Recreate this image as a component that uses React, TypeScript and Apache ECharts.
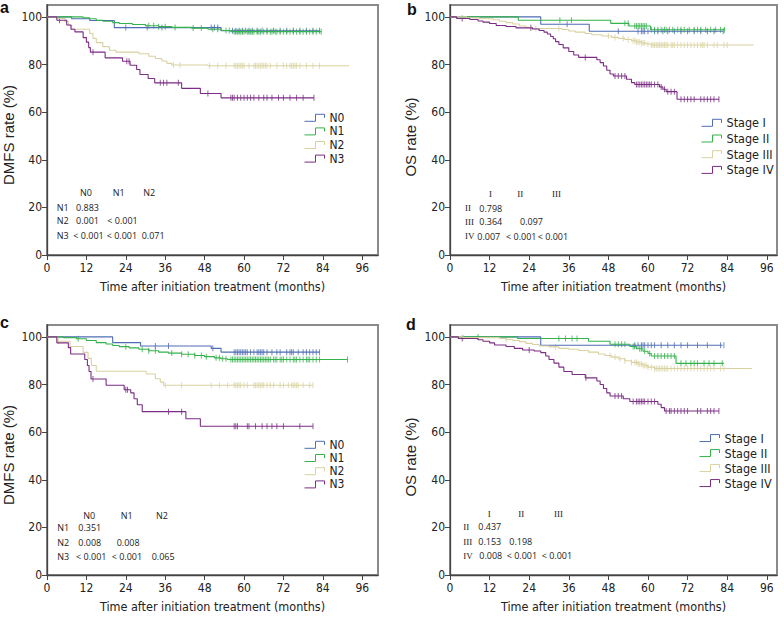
import React, { useEffect, useRef } from "react";
import * as echarts from "echarts";

// ---------- axis ticks ----------
const xTicks = [0, 12, 24, 36, 48, 60, 72, 84, 96];
const yTicks = [0, 20, 40, 60, 80, 100];

// ---------- groups ----------
const nodeGroups = ["N0", "N1", "N2", "N3"];
const stageGroups = ["Stage I", "Stage II", "Stage III", "Stage IV"];

// ---------- panel a: DMFS by N stage (steps = [month, rate]) ----------
const aN0Steps = [[0, 100], [7.5, 99.2], [13, 98.5], [20.5, 95.5], [53, 94.2], [83, 94.2]];
const aN0Censor = [24, 30.5, 35, 50, 51, 52, 56.5, 57.5, 58.5, 59.5, 60.5, 61.5, 62.5, 64, 65.5, 67, 69, 71, 73, 75, 77, 79, 81, 83];
const aN1Steps = [[0, 100], [11, 99.6], [13, 99.2], [15, 98.6], [17, 98.2], [20, 97.6], [22, 97.2], [26, 96.8], [30, 96.3], [34, 95.9], [38, 95.6], [44, 95.3], [49, 94.8], [53, 94.3], [56, 93.8], [83.5, 93.8]];
const aN1Censor = [31, 32.5, 34, 36, 39, 44.5, 47, 50.5, 52, 54.5, 55.5, 57, 57.5, 58, 58.5, 59, 59.5, 60, 61, 61.5, 62, 62.5, 63, 64, 64.5, 65, 66, 67, 68, 68.5, 69.5, 70, 71, 72, 73, 74, 75, 76, 77, 78, 79, 80, 81, 82, 83.5];
const aN2Steps = [[0, 100], [3, 99.3], [5.5, 98], [6.5, 96.5], [7.5, 94.8], [13, 93], [14, 91], [15, 89.2], [17, 87.5], [19, 86], [21, 85.2], [28, 84.5], [31, 83.5], [33, 82.5], [35, 81.5], [36.5, 80.5], [38, 79.8], [49, 79.5], [92, 79.5]];
const aN2Censor = [38.5, 40.5, 49.5, 52, 54.5, 57, 57.5, 58, 58.5, 59, 59.5, 60, 61.5, 63, 63.5, 64, 64.5, 65, 65.5, 66, 66.5, 67, 68, 70, 72, 73, 74, 74.5, 75, 75.5, 76, 77, 79, 81, 83];
const aN3Steps = [[0, 100], [3, 98.6], [6, 96.6], [7.3, 94.8], [8.5, 93.7], [11, 91.3], [12, 89.4], [12.7, 87.1], [13.2, 85.2], [17.7, 82.8], [23, 81.4], [25.3, 79.7], [27.3, 77.9], [28.3, 75.8], [30.8, 74.1], [32.8, 72.3], [41, 70], [46.7, 67.8], [53, 66], [81.3, 66]];
const aN3Censor = [3.8, 14, 24.3, 25, 34.5, 35.5, 36.5, 40, 49, 56, 56.5, 57, 58, 59, 60, 61, 62, 63, 64.5, 66, 67, 68.5, 70.5, 72, 74, 76, 78, 81.3];

// ---------- panel b: OS by clinical stage ----------
const bS1Steps = [[0, 100], [27.5, 96.9], [42.2, 94], [82.8, 94]];
const bS1Censor = [35.5, 51, 57, 58, 58.5, 59, 60, 62, 63, 64.5, 66, 68, 70, 72, 74, 76, 78, 80, 82.8];
const bS2Steps = [[0, 100], [20.7, 98.6], [48.7, 97.3], [54.2, 96.2], [60.8, 94.6], [83.2, 94.6]];
const bS2Censor = [33.3, 36.8, 53, 54, 56, 56.5, 57, 57.5, 58, 58.5, 59, 59.5, 61, 62, 63, 64, 65, 65.5, 66.5, 67.5, 69, 70, 71, 72.5, 74, 75, 76, 77.5, 79, 80.5, 82, 83.2];
const bS3Steps = [[0, 100], [5, 99.6], [9, 99.2], [13, 98.8], [15, 98.2], [17, 97.6], [19, 97], [21, 96.2], [23, 95.6], [25, 95.1], [34, 94.7], [36, 94.1], [38, 93.6], [41, 93], [43, 92.5], [46, 92], [49, 91.4], [51, 91], [53, 90.5], [55, 90], [56.5, 89.5], [58, 89], [59.5, 88.6], [61, 88.2], [92, 88.2]];
const bS3Censor = [26, 33, 48, 50, 52.5, 54, 55.5, 56, 56.5, 57, 57.5, 58, 58.5, 59, 60, 61, 61.5, 62, 62.5, 63, 63.5, 64, 64.5, 65, 65.5, 66, 67, 67.5, 68, 69, 70, 71, 72, 73, 74, 75, 76, 76.5, 77, 78, 80, 81, 83, 84];
const bS4Steps = [[0, 100], [2, 99.3], [6, 98.9], [8.5, 98.3], [10, 97.8], [12, 97.2], [14, 96.4], [17, 96], [20, 95.4], [25, 94.9], [27, 94.3], [28.5, 93.6], [29.5, 92.8], [30.5, 91.8], [31.3, 90.8], [32, 89.6], [33, 88.4], [34.3, 87], [36, 85.5], [37.5, 84], [39, 83], [44.5, 82], [45.5, 80.8], [46.5, 79.4], [47.5, 77.6], [48.5, 76], [49.5, 75.2], [53.5, 73.8], [55, 72.4], [56, 71.6], [63.5, 70.6], [64.5, 69.6], [65.5, 68.6], [68.8, 65.4], [81.5, 65.4]];
const bS4Censor = [3.7, 24.5, 41, 50, 51, 52, 53, 56.5, 57, 57.5, 58, 58.5, 59, 59.5, 60, 60.5, 61, 62, 63, 64, 65, 66, 67, 68, 70, 71, 72, 73, 74, 76, 77, 78, 79, 80, 81.5];

// ---------- panel c: DMFS by N stage ----------
const cN0Steps = [[0, 100], [20, 97.6], [28.5, 96.2], [50, 95.2], [53, 93.6], [83, 93.6]];
const cN0Censor = [33, 37, 50.5, 57, 57.5, 58, 58.5, 59, 59.5, 60, 60.5, 61, 62, 63, 64, 64.5, 65, 65.5, 66, 67, 68.5, 70, 71, 73, 74, 74.5, 75, 76.5, 78, 79, 80, 81, 82, 83];
const cN1Steps = [[0, 100], [5, 99.7], [9, 99.2], [12, 98.5], [15, 97.6], [18, 97], [20, 96.4], [22, 95.9], [25, 95.4], [28, 94.8], [31, 94.2], [34, 93.6], [37, 93.2], [41, 92.7], [45, 92.2], [48, 91.7], [51, 91.2], [53, 90.8], [55, 90.5], [91.5, 90.5]];
const cN1Censor = [9.5, 24, 29, 31, 33, 38, 41, 43, 45, 47, 48.5, 51.5, 52.5, 53.5, 54.5, 56, 56.5, 57, 57.5, 58, 58.5, 59, 59.5, 60, 60.5, 61, 61.5, 62, 62.5, 63, 63.5, 64, 64.5, 65, 65.5, 66, 66.5, 67, 67.5, 68, 69, 69.5, 70, 71, 71.5, 72, 73, 74, 75, 75.5, 76, 77, 78, 79, 79.5, 80, 81, 82, 83, 91.5];
const cN2Steps = [[0, 100], [3, 98.2], [7, 96], [11, 93.5], [12.5, 91], [13.5, 88], [15, 85.6], [30.2, 84.4], [33, 82.4], [34.5, 81], [35.5, 79.7], [81, 79.7]];
const cN2Censor = [3.5, 36, 41, 50, 52.5, 55, 57, 57.5, 58, 58.5, 59, 60, 61, 63, 63.5, 64, 64.5, 65, 65.5, 66, 67, 68, 69, 71, 72, 73.5, 74.5, 75, 75.5, 76, 76.5, 78, 80, 81];
const cN3Steps = [[0, 100], [3, 97.5], [6.5, 95.5], [7.2, 92.8], [11.5, 90.5], [12.3, 88], [12.8, 85.5], [13.4, 82.3], [18, 79.7], [23.5, 77.8], [25.5, 76.5], [26.5, 74], [27.5, 71.5], [29, 68.6], [42.3, 65.6], [46.7, 62.5], [81, 62.5]];
const cN3Censor = [14, 24, 24.5, 37, 41, 57, 57.5, 58, 61, 61.5, 63.5, 65.5, 67, 68.5, 70, 72, 77, 81];

// ---------- panel d: OS by clinical stage ----------
const dS1Steps = [[0, 100], [27.5, 96.5], [82.6, 96.5]];
const dS1Censor = [56, 57, 58, 58.5, 59, 60, 61, 62, 64, 66, 68, 70, 72, 75, 78, 82, 83];
const dS2Steps = [[0, 100], [20.5, 99.3], [42, 98.2], [48.5, 96.9], [54.5, 96], [56.5, 95], [58.5, 94], [60, 93], [61, 92], [68.5, 88.9], [83, 88.9]];
const dS2Censor = [8.5, 33, 35, 37, 38.5, 50, 51, 52, 53, 55.5, 56, 57.5, 58, 59, 60.5, 62, 63, 64, 65, 66, 67, 68, 70, 71.5, 73, 74, 75, 77, 78.5, 80, 82.5];
const dS3Steps = [[0, 100], [4, 99.7], [15, 99.3], [17, 98.9], [19, 98.5], [21, 98], [23, 97.3], [25, 96.8], [27, 96.2], [30, 95.8], [33, 95.2], [36, 94.8], [39, 94.3], [42, 93.6], [45, 92.8], [47, 92.2], [49, 91.5], [51, 90.8], [53, 90], [55, 89.3], [57, 88.6], [58.5, 88], [60, 87.3], [62, 86.7], [91.5, 86.7]];
const dS3Censor = [4, 17, 32, 48.5, 50, 51.5, 53, 55, 56, 56.5, 57, 57.5, 58, 58.5, 59, 59.5, 60, 61, 62, 62.5, 63, 63.5, 64, 64.5, 65, 65.5, 66, 67, 68, 69, 70, 71, 72, 73, 74, 75, 76, 77, 78, 79, 80, 82, 83];
const dS4Steps = [[0, 100], [2.5, 99.3], [8.5, 98.8], [10, 98.2], [12, 97.5], [13.5, 96.6], [17, 96], [19.5, 95.2], [22, 94.5], [25.5, 94.1], [27.5, 93.4], [29, 92], [30, 90.5], [31.5, 89], [33, 87.3], [34.5, 85.5], [37, 84.2], [41, 82.8], [44.5, 81.5], [45.5, 80], [46.5, 78.3], [47.5, 76.5], [48.5, 75.2], [52.5, 74], [54.5, 72.9], [63, 71.7], [64, 70.3], [65, 68.9], [81.5, 68.9]];
const dS4Censor = [3.7, 24, 41.2, 50, 51, 52, 55.5, 56.5, 57, 57.5, 58, 58.5, 59, 60, 61, 62, 65.5, 66.5, 67, 68, 69, 70, 71, 72, 75, 76, 78, 79, 80, 81.5];

// ---------- p-value tables (text) ----------
const aHeader = ["N0", "N1", "N2"];
const aRowLabels = ["N1", "N2", "N3"];
const aPValues = [["0.883"], ["0.001", "< 0.001"], ["< 0.001", "< 0.001", "0.071"]];
const bHeader = ["I", "II", "III"];
const bRowLabels = ["II", "III", "IV"];
const bPValues = [["0.798"], ["0.364", "0.097"], ["0.007", "< 0.001", "< 0.001"]];
const cHeader = ["N0", "N1", "N2"];
const cRowLabels = ["N1", "N2", "N3"];
const cPValues = [["0.351"], ["0.008", "0.008"], ["< 0.001", "< 0.001", "0.065"]];
const dHeader = ["I", "II", "III"];
const dRowLabels = ["II", "III", "IV"];
const dPValues = [["0.437"], ["0.153", "0.198"], ["0.008", "< 0.001", "< 0.001"]];

// ---------- styles & layout ----------
const COLORS = ["#4f6db3", "#34b24b", "#d9d2a0", "#7b2d84"];
const NARROW = "'Liberation Sans Narrow', 'Arial Narrow', 'DejaVu Sans Condensed', sans-serif";
const SANS = "'Liberation Sans', Arial, sans-serif";
const TABLE_SANS = "'Open Sans', 'Noto Sans', sans-serif";
const TABLE_SERIF = "'Liberation Serif', 'DejaVu Serif', serif";
const LEGEND_ICON = "path://M0,7 L11,7 L11,0 L20,0 L20,3.5";

const panels = [
  {
    letter: "a", letterPos: [0, -1], yName: "DMFS rate (%)", groups: nodeGroups,
    steps: [aN0Steps, aN1Steps, aN2Steps, aN3Steps], censors: [aN0Censor, aN1Censor, aN2Censor, aN3Censor],
    grid: { left: 45, top: 5, width: 333, height: 250 }, xMax: 100.8,
    xNamePad: 0, yNamePad: 10, yNameGap: 31,
    legend: { left: 302, top: 111.2, lineHeight: 13.2, gap: 0.4, fontSize: 12 },
    header: aHeader, rowLabels: aRowLabels, pValues: aPValues, serif: false,
    headerX: [80, 112.7, 143.3], headerY: 192, rowLabelX: 56.7, rowY: [207.3, 220.7, 235],
    cellX: [[76], [76, 107.3], [73.3, 106.7, 141.7]],
  },
  {
    letter: "b", letterPos: [407, 1.5], yName: "OS rate (%)", groups: stageGroups,
    steps: [bS1Steps, bS2Steps, bS3Steps, bS4Steps], censors: [bS1Censor, bS2Censor, bS3Censor, bS4Censor],
    grid: { left: 450, top: 5, width: 327, height: 250 }, xMax: 99.1,
    xNamePad: 0, yNamePad: 14, yNameGap: 32,
    legend: { left: 699, top: 115.2, lineHeight: 15.2, gap: 0.5, fontSize: 12.5 },
    header: bHeader, rowLabels: bRowLabels, pValues: bPValues, serif: true,
    headerX: [489, 517.3, 552], headerY: 194.3, rowLabelX: 465, rowY: [208.3, 221.7, 236],
    cellX: [[479.3], [479.3, 520], [477.3, 506, 537.7]],
  },
  {
    letter: "c", letterPos: [0, 314], yName: "DMFS rate (%)", groups: nodeGroups,
    steps: [cN0Steps, cN1Steps, cN2Steps, cN3Steps], censors: [cN0Censor, cN1Censor, cN2Censor, cN3Censor],
    grid: { left: 45, top: 325, width: 333, height: 250 }, xMax: 100.8,
    xNamePad: 0, yNamePad: 10, yNameGap: 31,
    legend: { left: 302, top: 438.4, lineHeight: 12.8, gap: 0.4, fontSize: 12 },
    header: cHeader, rowLabels: cRowLabels, pValues: cPValues, serif: false,
    headerX: [83.3, 120.7, 156], headerY: 515, rowLabelX: 57.3, rowY: [527.7, 542.7, 556.7],
    cellX: [[78.3], [78.3, 116.7], [76, 111.7, 151.7]],
  },
  {
    letter: "d", letterPos: [406, 316], yName: "OS rate (%)", groups: stageGroups,
    steps: [dS1Steps, dS2Steps, dS3Steps, dS4Steps], censors: [dS1Censor, dS2Censor, dS3Censor, dS4Censor],
    grid: { left: 450, top: 325, width: 327, height: 250 }, xMax: 99.1,
    xNamePad: 0, yNamePad: 14, yNameGap: 32,
    legend: { left: 697, top: 430.8, lineHeight: 14.5, gap: 0.5, fontSize: 12.5 },
    header: dHeader, rowLabels: dRowLabels, pValues: dPValues, serif: true,
    headerX: [487.7, 518.3, 554], headerY: 514, rowLabelX: 463.3, rowY: [526.7, 541.7, 555.7],
    cellX: [[478.3], [478.3, 509.3], [479.3, 506.7, 541.7]],
  },
];

// Kaplan-Meier step lookup: survival at time t
function survAt(steps: number[][], t: number): number {
  let s = steps[0][1];
  for (const p of steps) {
    if (p[0] <= t) s = p[1];
    else break;
  }
  return s;
}

function buildOption() {
  const grid: any[] = [];
  const xAxis: any[] = [];
  const yAxis: any[] = [];
  const series: any[] = [];
  const legend: any[] = [];
  const graphic: any[] = [];

  panels.forEach((p, pi) => {
    grid.push({ ...p.grid, show: true, borderColor: "#8a8a8a", borderWidth: 2, backgroundColor: "#fff" });
    xAxis.push({
      type: "value", gridIndex: pi, min: 0, max: p.xMax,
      name: "Time after initiation treatment (months)", nameLocation: "middle", nameGap: 25,
      nameTextStyle: { fontFamily: NARROW, fontSize: 12.5, color: "#222", padding: [0, p.xNamePad, 0, 0] },
      axisLine: { show: true, onZero: false, lineStyle: { color: "#444", width: 1.3 } },
      axisTick: { show: true, length: 5, customValues: xTicks, lineStyle: { color: "#444" } },
      axisLabel: { customValues: xTicks, margin: 7, fontFamily: NARROW, fontSize: 12, color: "#222" },
      splitLine: { show: false },
    });
    yAxis.push({
      type: "value", gridIndex: pi, min: 0, max: 105,
      name: p.yName, nameLocation: "middle", nameGap: p.yNameGap,
      nameTextStyle: { fontFamily: SANS, fontSize: 15, color: "#222", padding: [0, p.yNamePad, 0, 0] },
      axisLine: { show: true, onZero: false, lineStyle: { color: "#444", width: 1.3 } },
      axisTick: { show: true, length: 5, customValues: yTicks, lineStyle: { color: "#444" } },
      axisLabel: { customValues: yTicks, margin: 5, fontFamily: NARROW, fontSize: 12, color: "#222" },
      splitLine: { show: false },
    });

    p.groups.forEach((g, gi) => {
      const steps = p.steps[gi];
      series.push({
        type: "line", name: g, xAxisIndex: pi, yAxisIndex: pi, data: steps, step: "end",
        symbol: "none", showSymbol: false, silent: true,
        lineStyle: { color: COLORS[gi], width: 1.1 }, itemStyle: { color: COLORS[gi] },
      });
      series.push({
        type: "scatter", name: g + " (censored)", xAxisIndex: pi, yAxisIndex: pi,
        data: p.censors[gi].map((t) => [t, survAt(steps, t)]),
        symbol: "rect", symbolSize: [1, 6], silent: true,
        itemStyle: { color: COLORS[gi] },
      });
    });

    legend.push({
      data: p.groups.map((g, gi) => ({
        name: g,
        itemStyle: { color: "none", borderColor: COLORS[gi], borderWidth: 1 },
      })),
      orient: "vertical", left: p.legend.left, top: p.legend.top,
      icon: LEGEND_ICON, itemWidth: 20, itemHeight: 7, itemGap: p.legend.gap, selectedMode: false,
      padding: 0,
      textStyle: { fontFamily: NARROW, fontSize: p.legend.fontSize, color: "#222", lineHeight: p.legend.lineHeight },
    });

    // panel letter
    graphic.push({
      type: "text", x: p.letterPos[0], y: p.letterPos[1],
      style: { text: p.letter, font: `bold 16px ${SANS}`, fill: "#111", align: "left", verticalAlign: "top" },
    });

    // p-value table
    const labelFont = p.serif ? `9px ${TABLE_SERIF}` : `9px ${TABLE_SANS}`;
    p.header.forEach((h, hi) => {
      graphic.push({
        type: "text", x: p.headerX[hi], y: p.headerY,
        style: { text: h, font: labelFont, fill: "#222", align: "left", verticalAlign: "middle" },
      });
    });
    p.rowLabels.forEach((r, ri) => {
      graphic.push({
        type: "text", x: p.rowLabelX, y: p.rowY[ri],
        style: { text: r, font: labelFont, fill: "#222", align: "left", verticalAlign: "middle" },
      });
      p.pValues[ri].forEach((v, ci) => {
        graphic.push({
          type: "text", x: p.cellX[ri][ci], y: p.rowY[ri],
          style: { text: v, font: `9px ${TABLE_SANS}`, fill: "#222", align: "left", verticalAlign: "middle" },
        });
      });
    });
  });

  return {
    animation: false,
    backgroundColor: "#fff",
    grid, xAxis, yAxis, series, legend, graphic,
  };
}

export default function App() {
  const ref = useRef<HTMLDivElement>(null);
  useEffect(() => {
    if (!ref.current) return;
    const chart = echarts.init(ref.current, null, { renderer: "svg" });
    chart.setOption(buildOption() as any);
    return () => chart.dispose();
  }, []);
  return (
    <div
      ref={ref}
      style={{ position: "fixed", left: 0, top: 0, width: 784, height: 618, background: "#fff" }}
    />
  );
}
